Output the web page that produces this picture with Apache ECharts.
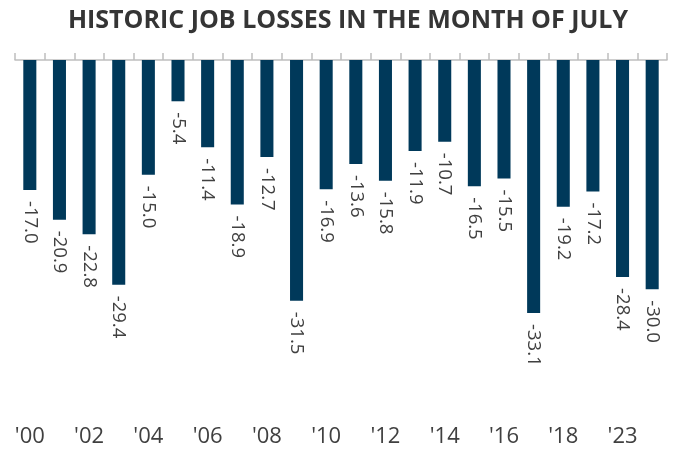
<!DOCTYPE html>
<html>
<head>
<meta charset="utf-8">
<script src="https://cdn.jsdelivr.net/npm/echarts@6/dist/echarts.min.js"></script>
<style>
  html, body { margin: 0; padding: 0; background: #fff; }
  #chart { width: 679px; height: 453px; }
</style>
</head>
<body>
<div id="chart"></div>
<script>
const years = ["'00", "'01", "'02", "'03", "'04", "'05", "'06", "'07", "'08", "'09",
  "'10", "'11", "'12", "'13", "'14", "'15", "'16", "'17", "'18", "'19", "'23", "'24"]
const jobLosses = [-17.0, -20.9, -22.8, -29.4, -15.0, -5.4, -11.4, -18.9, -12.7, -31.5,
  -16.9, -13.6, -15.8, -11.9, -10.7, -16.5, -15.5, -33.1, -19.2, -17.2, -28.4, -30.0]

const chart = echarts.init(document.getElementById('chart'))
chart.setOption({
  animation: false,
  title: {
    text: 'HISTORIC JOB LOSSES IN THE MONTH OF JULY',
    left: 343,
    textAlign: 'center',
    top: 3,
    textStyle: {
      color: '#353535',
      fontFamily: 'Open Sans',
      fontWeight: 'bold',
      fontSize: 25
    }
  },
  grid: {
    top: 60,
    left: 15,
    right: 12,
    bottom: 49
  },
  xAxis: [
    {
      type: 'category',
      position: 'top',
      data: years,
      boundaryGap: true,
      axisLine: {
        onZero: false,
        lineStyle: { color: '#bfbfbf', width: 1.5 }
      },
      axisTick: {
        show: true,
        length: 7,
        lineStyle: { color: '#bfbfbf', width: 1.5 }
      },
      axisLabel: { show: false }
    },
    {
      type: 'category',
      position: 'bottom',
      data: years,
      axisLine: { show: false, onZero: false },
      axisTick: { show: false },
      axisLabel: {
        interval: 1,
        margin: 22,
        color: '#404040',
        fontFamily: 'Open Sans',
        fontSize: 22
      }
    }
  ],
  yAxis: {
    type: 'value',
    min: -45,
    max: 0,
    show: false,
    splitLine: { show: false }
  },
  series: [
    {
      type: 'bar',
      xAxisIndex: 0,
      data: jobLosses,
      barWidth: '44%',
      itemStyle: { color: '#00395a' },
      label: {
        show: true,
        position: 'bottom',
        rotate: -90,
        align: 'left',
        verticalAlign: 'middle',
        distance: 11,
        color: '#404040',
        fontFamily: 'Open Sans',
        fontSize: 18.5,
        formatter: (p) => p.value.toFixed(1)
      }
    }
  ]
})
</script>
</body>
</html>
